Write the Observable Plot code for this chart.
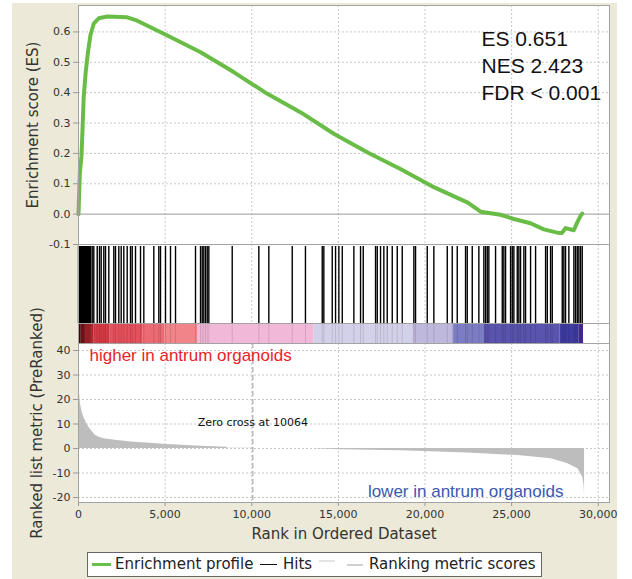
<!DOCTYPE html>
<html><head><meta charset="utf-8">
<script src="https://cdn.jsdelivr.net/npm/d3@7"></script>
<script src="https://cdn.jsdelivr.net/npm/@observablehq/plot@0.6"></script>
<style>
body{margin:0;background:#fff;width:632px;height:579px;overflow:hidden;position:relative;font-family:"DejaVu Sans",sans-serif;}
#panel{position:absolute;left:12px;top:3px;width:605px;height:576px;background:#ece9d8;}
.plot{position:absolute;left:12px;overflow:visible;}
#legend{position:absolute;left:87px;top:552px;width:453px;height:23px;border:1px solid #666;background:#fff;}
#legend .sw{position:absolute;height:0;}
#legend .lt{position:absolute;top:2px;font-size:15px;line-height:18px;color:#222;white-space:nowrap;}
</style></head><body>
<div id="panel"></div>
<div id="p1" class="plot" style="top:0px"></div>
<div id="p2" class="plot" style="top:244px"></div>
<div id="p3" class="plot" style="top:343px"></div>
<div id="legend">
  <div class="sw" style="left:4px;top:10px;width:19px;border-top:3px solid #6abf4b"></div>
  <div class="lt" style="left:27px">Enrichment profile</div>
  <div class="sw" style="left:172px;top:11px;width:17px;border-top:1.5px solid #111"></div>
  <div class="lt" style="left:195px">Hits</div>
  <div class="sw" style="left:231px;top:7px;width:16px;border-top:2px solid #e4e4e4"></div>
  <div class="sw" style="left:259px;top:11px;width:16px;border-top:2px solid #d0d0d0"></div>
  <div class="lt" style="left:281px">Ranking metric scores</div>
</div>
<script>
// ---------- data ----------
const esRank  = [0, 75, 170, 230, 300, 420, 540, 690, 880, 1170, 1660, 2810, 3390, 5130, 7050, 8980, 10900, 12830, 14760, 16690, 18610, 20540, 22470, 23210, 24360, 25130, 26090, 26860, 27630, 27900, 28110, 28590, 28780, 28980, 29080];
const esValue = [0, 0.133, 0.19, 0.275, 0.385, 0.47, 0.53, 0.59, 0.627, 0.645, 0.651, 0.648, 0.637, 0.588, 0.533, 0.467, 0.396, 0.335, 0.264, 0.203, 0.148, 0.088, 0.038, 0.008, -0.002, -0.016, -0.03, -0.05, -0.061, -0.062, -0.046, -0.053, -0.028, -0.006, 0.002];

const metricRank  = [0, 40, 116, 200, 306, 450, 595, 800, 983, 1200, 1462, 2237, 3196, 4100, 5127, 6000, 7052, 8572, 8600, 10064, 10065, 13699, 13700, 15140, 18610, 22470, 25360, 27290, 28250, 28830, 29110, 29180, 29210];
const metricValue = [26.7, 24, 18.2, 15, 12.8, 10.5, 8.7, 6.8, 5.3, 4.6, 4.0, 3.3, 2.6, 2.1, 1.6, 1.3, 0.95, 0.5, 0.12, 0.1, 0, 0, -0.15, -0.5, -0.9, -1.8, -2.9, -4.2, -6.2, -8.3, -11.7, -15, -19.2];

const hitRank = [0, 20, 45, 70, 95, 120, 150, 175, 200, 230, 260, 285, 310, 340, 370, 400, 430, 455, 490, 520, 550, 580, 610, 640, 670, 700,
  791, 883, 1080, 1212, 1310, 1460, 1559, 1749, 2038, 2136, 2327, 2465, 2615, 2811, 3002, 3100, 3291, 3579, 3770, 4347, 4636, 4734, 5022, 5311, 5600,
  6754, 7043, 7141, 7234, 7332, 7430, 7523, 8873, 10409, 10986, 12337, 13100, 14069, 14161, 14646, 14838, 15029, 15225, 15894, 16280, 16436, 17146, 17244,
  17434, 17625, 17821, 18110, 18398, 18687, 19357, 19455, 20130, 20512, 21285, 21573, 21862, 22341, 22439, 22728, 23109, 23398, 23496, 23594, 23686,
  24073, 24460, 24552, 24651, 24939, 25037, 25130, 25326, 25418, 25516, 25707, 25805, 26094, 26383, 26960, 27058, 27248, 27346, 27923, 28015, 28113,
  28304, 28593, 28691, 28789, 28881, 28979, 29077];

const bandStart = [0, 150, 400, 900, 1800, 3700, 5000, 6900, 13600, 19300, 21650, 23400, 27800, 28900];
const bandEnd   = [150, 400, 900, 1800, 3700, 5000, 6900, 13600, 19300, 21650, 23400, 27800, 28900, 29150];

const xTicks = [0, 5000, 10000, 15000, 20000, 25000, 30000];
const esTicks = [-0.1, 0, 0.1, 0.2, 0.3, 0.4, 0.5, 0.6];
const metricTicks = [-20, -10, 0, 10, 20, 30, 40];
const zeroCross = 10064;
const statsText = ["ES 0.651", "NES 2.423", "FDR < 0.001"];
const upLabel = "higher in antrum organoids";
const downLabel = "lower in antrum organoids";

// ---------- styles ----------
const bandPalette = ["#4a0e12", "#8c1a20", "#bf2a32", "#d83a45", "#e4505b", "#ec6a73", "#f08489", "#f2b8d8", "#d3d1ea", "#bfb8dd", "#7c7cc4", "#5a54ae", "#3f3ca2", "#4a2a98"];
const W = 605, ML = 66, MR = 8;
const xDomain = [0, 30650];
const gridStyle = {stroke: "#c8c8c8", strokeOpacity: 1, strokeDasharray: "2,2"};
const frameStroke = "#a3a3a3";
const baseStyle = {background: "transparent", overflow: "visible", fontFamily: "DejaVu Sans", fontSize: "11px"};
const HIT_TOP = 2, HIT_BOTTOM = 79, BAR_BOTTOM = 99;

const esData = esRank.map((r, i) => ({rank: r, es: esValue[i]}));
const metricData = metricRank.map((r, i) => ({rank: r, v: metricValue[i]}));
const bands = bandStart.map((s, i) => ({start: s, end: bandEnd[i], color: bandPalette[i]}));

// ---------- panel 1: enrichment score ----------
const p1 = Plot.plot({
  width: W, height: 244, marginLeft: ML, marginRight: MR, marginTop: 5, marginBottom: 0,
  style: baseStyle,
  x: {domain: xDomain, axis: null},
  y: {domain: [-0.1, 0.687], axis: null},
  marks: [
    Plot.frame({fill: "white"}),
    Plot.gridX(xTicks.filter(d => d > 0), gridStyle),
    Plot.gridY(esTicks.filter(d => d !== 0), gridStyle),
    Plot.ruleY([0], {stroke: "#9a9a9a"}),
    Plot.axisY(esTicks, {tickFormat: d => d.toFixed(1), tickSize: 5, tickPadding: 3, stroke: "#999", fill: "#333", label: null}),
    Plot.line(esData, {x: "rank", y: "es", stroke: "#69bd47", strokeWidth: 4, strokeLinejoin: "round", strokeLinecap: "round"}),
    Plot.text([statsText.join("\n")], {frameAnchor: "top-left", dx: 403, dy: 21, textAnchor: "start", lineAnchor: "top", lineHeight: 1.29, fontSize: 21, fontFamily: "Liberation Sans", fill: "#111"}),
    Plot.text(["Enrichment score (ES)"], {frameAnchor: "left", dx: -45, rotate: -90, textAnchor: "middle", lineAnchor: "middle", fontSize: 15, fill: "#333"}),
    Plot.frame({stroke: frameStroke})
  ]
});
document.getElementById("p1").appendChild(p1);

// ---------- panel 2: hits + colour bar ----------
const p2 = Plot.plot({
  width: W, height: 99, marginLeft: ML, marginRight: MR, marginTop: 0, marginBottom: 0,
  style: baseStyle,
  x: {domain: xDomain, axis: null},
  y: {domain: [0, BAR_BOTTOM], range: [0, BAR_BOTTOM], axis: null},
  color: {type: "identity"},
  marks: [
    Plot.frame({fill: "white"}),
    Plot.gridX(xTicks.filter(d => d > 0), gridStyle),
    Plot.rect(bands, {x1: "start", x2: "end", y1: HIT_BOTTOM, y2: BAR_BOTTOM, fill: "color"}),
    Plot.ruleX(hitRank, {y1: HIT_BOTTOM, y2: BAR_BOTTOM, stroke: "#000", strokeOpacity: 0.12, strokeWidth: 1}),
    Plot.ruleX(hitRank, {y1: HIT_TOP, y2: HIT_BOTTOM, stroke: "#000", strokeWidth: 1.4}),
    Plot.ruleY([HIT_BOTTOM], {stroke: frameStroke}),
    Plot.frame({stroke: frameStroke})
  ]
});
document.getElementById("p2").appendChild(p2);

// ---------- panel 3: ranked list metric ----------
const p3 = Plot.plot({
  width: W, height: 199, marginLeft: ML, marginRight: MR, marginTop: 0, marginBottom: 40,
  style: baseStyle,
  x: {domain: xDomain, axis: null},
  y: {domain: [-22.04, 42.86], axis: null},
  marks: [
    Plot.frame({fill: "white"}),
    Plot.gridX(xTicks.filter(d => d > 0), gridStyle),
    Plot.gridY(metricTicks, gridStyle),
    Plot.areaY(metricData, {x: "rank", y: "v", fill: "#bdbdbd"}),
    Plot.ruleX([zeroCross], {stroke: "#9a9a9a", strokeDasharray: "5,3"}),
    Plot.text([`Zero cross at ${zeroCross}`], {x: [zeroCross], frameAnchor: "top", dy: 79, lineAnchor: "middle", fontSize: 11, fill: "#111", fontFamily: "DejaVu Sans", style: "letter-spacing:1px"}),
    Plot.text([upLabel], {frameAnchor: "top-left", dx: 11, dy: 5.6, textAnchor: "start", lineAnchor: "top", fontSize: 17, fontFamily: "Liberation Sans", fill: "#e8232c"}),
    Plot.text([downLabel], {frameAnchor: "bottom-right", dx: -46, dy: -6, textAnchor: "end", lineAnchor: "bottom", fontSize: 17, fontFamily: "Liberation Sans", fill: "#3a58b0"}),
    Plot.axisY(metricTicks, {tickFormat: d => String(d), tickSize: 5, tickPadding: 3, stroke: "#999", fill: "#333", label: null}),
    Plot.axisX(xTicks, {tickFormat: d3.format(","), tickSize: 4, tickPadding: 4, stroke: "#999", fill: "#333", label: null}),
    Plot.text(["Ranked list metric (PreRanked)"], {frameAnchor: "left", dx: -41, rotate: -90, textAnchor: "middle", lineAnchor: "middle", fontSize: 15, fill: "#333"}),
    Plot.text(["Rank in Ordered Dataset"], {frameAnchor: "bottom", dy: 36, lineAnchor: "bottom", fontSize: 15, fill: "#333"}),
    Plot.frame({stroke: frameStroke})
  ]
});
document.getElementById("p3").appendChild(p3);
</script>
</body></html>
